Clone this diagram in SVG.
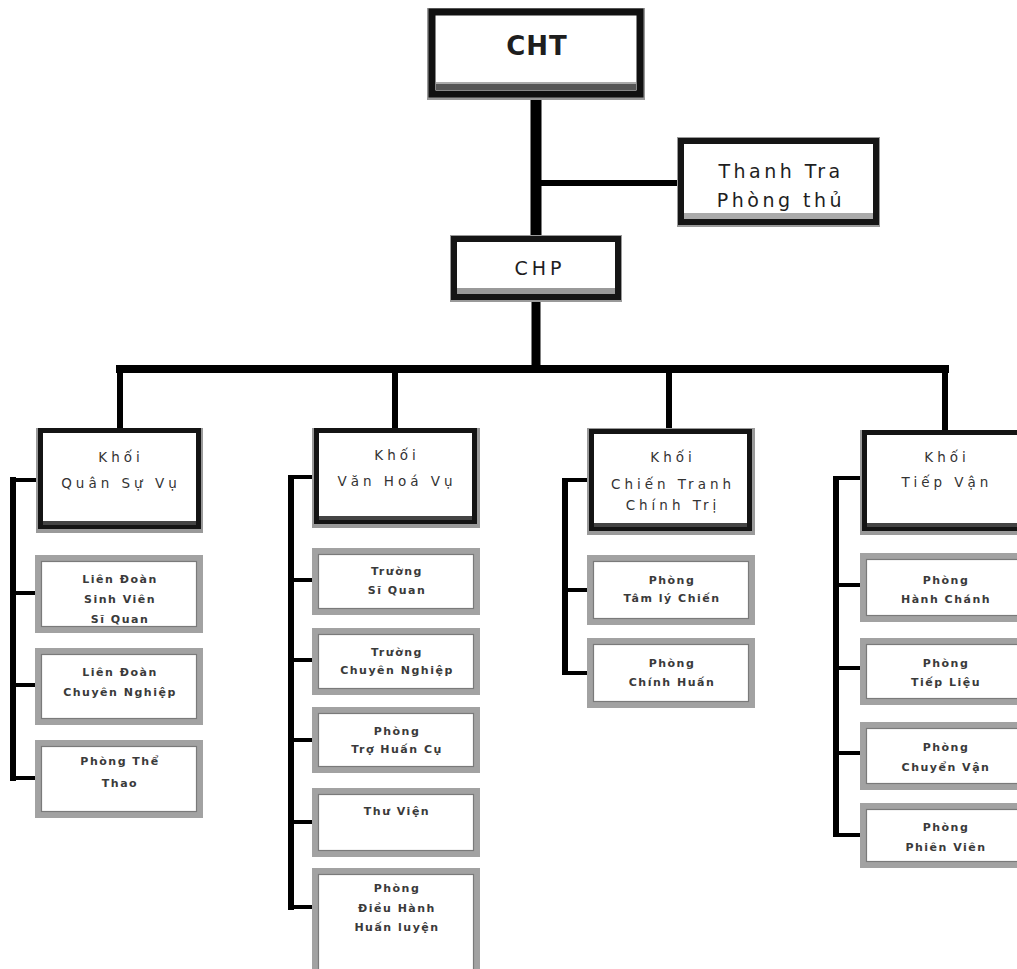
<svg xmlns="http://www.w3.org/2000/svg" width="1017" height="969" viewBox="0 0 1017 969">
<style>
.halo{fill:#9a9a9a}
.kb{fill:#fff;stroke:#141414;stroke-width:5}
.kbot{fill:#444}
.sb{fill:#fff;stroke:#a2a2a2;stroke-width:6}
.si{fill:none;stroke:#7a7a7a;stroke-width:1.2}
.big{font-family:"DejaVu Sans",sans-serif;fill:#1e1e1e;text-anchor:middle}
.kt{font-family:"DejaVu Sans",sans-serif;font-size:13.5px;letter-spacing:4px;fill:#333;text-anchor:middle}
.st{font-family:"DejaVu Sans",sans-serif;font-weight:bold;font-size:11px;letter-spacing:1.5px;fill:#3a3a3a;text-anchor:middle}
.c{stroke:#000;fill:none;stroke-linecap:butt}
</style>
<rect width="1017" height="969" fill="#fff"/>

<g id="connectors">
<line class="c" x1="536" y1="100" x2="536" y2="236" stroke-width="11"/>
<line class="c" x1="540" y1="183" x2="678" y2="183" stroke-width="6"/>
<line class="c" x1="536" y1="300" x2="536" y2="372" stroke-width="9"/>
<line class="c" x1="116" y1="369" x2="949" y2="369" stroke-width="8"/>
<line class="c" x1="120" y1="369" x2="120" y2="429" stroke-width="6"/>
<line class="c" x1="395" y1="369" x2="395" y2="429" stroke-width="6"/>
<line class="c" x1="669" y1="369" x2="669" y2="429" stroke-width="6"/>
<line class="c" x1="945" y1="369" x2="945" y2="431" stroke-width="6"/>
<line class="c" x1="13" y1="477" x2="13" y2="781" stroke-width="6"/>
<line class="c" x1="10" y1="480" x2="38" y2="480" stroke-width="4"/>
<line class="c" x1="13" y1="593" x2="38" y2="593" stroke-width="4"/>
<line class="c" x1="13" y1="685" x2="38" y2="685" stroke-width="4"/>
<line class="c" x1="10" y1="778" x2="38" y2="778" stroke-width="4"/>
<line class="c" x1="291" y1="475" x2="291" y2="910" stroke-width="6"/>
<line class="c" x1="288" y1="477" x2="314" y2="477" stroke-width="4"/>
<line class="c" x1="291" y1="580" x2="314" y2="580" stroke-width="4"/>
<line class="c" x1="291" y1="660" x2="314" y2="660" stroke-width="4"/>
<line class="c" x1="291" y1="740" x2="314" y2="740" stroke-width="4"/>
<line class="c" x1="291" y1="822" x2="314" y2="822" stroke-width="4"/>
<line class="c" x1="288" y1="907" x2="314" y2="907" stroke-width="4"/>
<line class="c" x1="565" y1="478" x2="565" y2="675" stroke-width="6"/>
<line class="c" x1="562" y1="480" x2="589" y2="480" stroke-width="4"/>
<line class="c" x1="565" y1="590" x2="589" y2="590" stroke-width="4"/>
<line class="c" x1="562" y1="673" x2="589" y2="673" stroke-width="4"/>
<line class="c" x1="836" y1="476" x2="836" y2="837" stroke-width="6"/>
<line class="c" x1="833" y1="478" x2="862" y2="478" stroke-width="4"/>
<line class="c" x1="836" y1="585" x2="862" y2="585" stroke-width="4"/>
<line class="c" x1="836" y1="668" x2="862" y2="668" stroke-width="4"/>
<line class="c" x1="836" y1="753" x2="862" y2="753" stroke-width="4"/>
<line class="c" x1="833" y1="835" x2="862" y2="835" stroke-width="4"/>
</g>

<g id="cht">
<rect class="halo" x="427" y="8" width="218" height="92"/>
<rect x="432" y="12" width="208" height="82" fill="#fff" stroke="#111" stroke-width="7"/>
<rect x="436" y="84" width="200" height="6" fill="#555"/>
<line x1="436" y1="83" x2="636" y2="83" stroke="#aaa" stroke-width="2"/>
<text class="big" x="537" y="55" font-size="26" font-weight="bold" letter-spacing="1">CHT</text>
</g>

<g id="thanhtra">
<rect class="halo" x="677" y="137" width="203" height="90"/>
<rect x="681" y="141" width="195" height="81" fill="#fff" stroke="#151515" stroke-width="6"/>
<rect x="684" y="213" width="189" height="6" fill="#aaa"/>
<text class="big" x="781" y="178" font-size="19" letter-spacing="3.5" fill="#333">Thanh Tra</text>
<text class="big" x="781" y="207" font-size="19" letter-spacing="3.5" fill="#333">Phòng thủ</text>
</g>

<g id="chp">
<rect class="halo" x="450" y="235" width="172" height="67"/>
<rect x="454" y="239" width="164" height="58" fill="#fff" stroke="#151515" stroke-width="6"/>
<rect x="457" y="288" width="158" height="6" fill="#999"/>
<text class="big" x="540" y="275" font-size="19" letter-spacing="4" fill="#333">CHP</text>
</g>

<g id="khoi-quan-su-vu">
<rect class="halo" x="36" y="428" width="167" height="105"/>
<rect class="kb" x="40.5" y="430.5" width="158" height="96"/>
<rect class="kbot" x="43" y="521" width="153" height="4"/>
<text class="kt" x="121" y="462">Khối</text>
<text class="kt" x="121" y="488">Quân Sự Vụ</text>
</g>
<g id="khoi-van-hoa-vu">
<rect class="halo" x="312" y="428" width="168" height="100"/>
<rect class="kb" x="316.5" y="430.5" width="158" height="91"/>
<rect class="kbot" x="319" y="516" width="153" height="4"/>
<text class="kt" x="397" y="460">Khối</text>
<text class="kt" x="397" y="486">Văn Hoá Vụ</text>
</g>
<g id="khoi-chien-tranh-chinh-tri">
<rect class="halo" x="587" y="428" width="168" height="107"/>
<rect class="kb" x="591.5" y="431.5" width="158" height="97"/>
<rect class="kbot" x="594" y="523" width="153" height="4"/>
<text class="kt" x="673" y="462">Khối</text>
<text class="kt" x="673" y="489">Chiến Tranh</text>
<text class="kt" x="673" y="510">Chính Trị</text>
</g>
<g id="khoi-tiep-van">
<rect class="halo" x="860" y="430" width="168" height="105"/>
<rect class="kb" x="864.5" y="432.5" width="158" height="96"/>
<rect class="kbot" x="867" y="523" width="153" height="4"/>
<text class="kt" x="947" y="462">Khối</text>
<text class="kt" x="947" y="487">Tiếp Vận</text>
</g>

<g id="lien-doan-svsq">
<rect class="sb" x="38" y="558" width="162" height="72"/>
<rect class="si" x="41.5" y="561.5" width="155" height="65"/>
<text class="st" x="120" y="583">Liên Đoàn</text>
<text class="st" x="120" y="603">Sinh Viên</text>
<text class="st" x="120" y="623">Sĩ Quan</text>
</g>
<g id="lien-doan-chuyen-nghiep">
<rect class="sb" x="38" y="651" width="162" height="71"/>
<rect class="si" x="41.5" y="654.5" width="155" height="64"/>
<text class="st" x="120" y="676">Liên Đoàn</text>
<text class="st" x="120" y="696">Chuyên Nghiệp</text>
</g>
<g id="phong-the-thao">
<rect class="sb" x="38" y="743" width="162" height="72"/>
<rect class="si" x="41.5" y="746.5" width="155" height="65"/>
<text class="st" x="120" y="765">Phòng Thể</text>
<text class="st" x="120" y="787">Thao</text>
</g>

<g id="truong-si-quan">
<rect class="sb" x="315" y="551" width="162" height="61"/>
<rect class="si" x="318.5" y="554.5" width="155" height="54"/>
<text class="st" x="397" y="575">Trường</text>
<text class="st" x="397" y="594">Sĩ Quan</text>
</g>
<g id="truong-chuyen-nghiep">
<rect class="sb" x="315" y="631" width="162" height="61"/>
<rect class="si" x="318.5" y="634.5" width="155" height="54"/>
<text class="st" x="397" y="656">Trường</text>
<text class="st" x="397" y="674">Chuyên Nghiệp</text>
</g>
<g id="phong-tro-huan-cu">
<rect class="sb" x="315" y="710" width="162" height="60"/>
<rect class="si" x="318.5" y="713.5" width="155" height="53"/>
<text class="st" x="397" y="735">Phòng</text>
<text class="st" x="397" y="753">Trợ Huấn Cụ</text>
</g>
<g id="thu-vien">
<rect class="sb" x="315" y="791" width="162" height="63"/>
<rect class="si" x="318.5" y="794.5" width="155" height="56"/>
<text class="st" x="397" y="815">Thư Viện</text>
</g>
<g id="phong-dieu-hanh-huan-luyen">
<rect class="sb" x="315" y="871" width="162" height="110"/>
<rect class="si" x="318.5" y="874.5" width="155" height="103"/>
<text class="st" x="397" y="892">Phòng</text>
<text class="st" x="397" y="912">Điều Hành</text>
<text class="st" x="397" y="931">Huấn luyện</text>
</g>

<g id="phong-tam-ly-chien">
<rect class="sb" x="590" y="558" width="162" height="64"/>
<rect class="si" x="593.5" y="561.5" width="155" height="57"/>
<text class="st" x="672" y="584">Phòng</text>
<text class="st" x="672" y="602">Tâm lý Chiến</text>
</g>
<g id="phong-chinh-huan">
<rect class="sb" x="590" y="641" width="162" height="64"/>
<rect class="si" x="593.5" y="644.5" width="155" height="57"/>
<text class="st" x="672" y="667">Phòng</text>
<text class="st" x="672" y="686">Chính Huấn</text>
</g>

<g id="phong-hanh-chanh">
<rect class="sb" x="863" y="556" width="162" height="63"/>
<rect class="si" x="866.5" y="559.5" width="155" height="56"/>
<text class="st" x="946" y="584">Phòng</text>
<text class="st" x="946" y="603">Hành Chánh</text>
</g>
<g id="phong-tiep-lieu">
<rect class="sb" x="863" y="641" width="162" height="61"/>
<rect class="si" x="866.5" y="644.5" width="155" height="54"/>
<text class="st" x="946" y="667">Phòng</text>
<text class="st" x="946" y="686">Tiếp Liệu</text>
</g>
<g id="phong-chuyen-van">
<rect class="sb" x="863" y="725" width="162" height="62"/>
<rect class="si" x="866.5" y="728.5" width="155" height="55"/>
<text class="st" x="946" y="751">Phòng</text>
<text class="st" x="946" y="771">Chuyển Vận</text>
</g>
<g id="phong-phien-vien">
<rect class="sb" x="863" y="806" width="162" height="59"/>
<rect class="si" x="866.5" y="809.5" width="155" height="52"/>
<text class="st" x="946" y="831">Phòng</text>
<text class="st" x="946" y="851">Phiên Viên</text>
</g>
</svg>
